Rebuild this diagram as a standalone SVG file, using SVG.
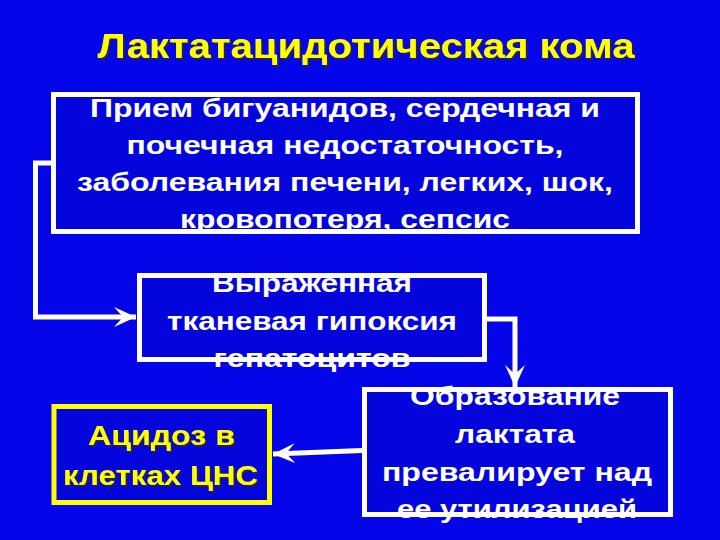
<svg xmlns="http://www.w3.org/2000/svg" width="720" height="540" viewBox="0 0 720 540">
<defs>
<style>
.box{fill:#0404DC;stroke:#FFFFFF;stroke-width:5}
.ybox{fill:#0404DC;stroke:#FFFF00;stroke-width:5}
.t{font-family:"Liberation Sans",Arial,sans-serif;font-weight:bold;font-size:26px;fill:#FFFFFF;text-anchor:middle}
.y{fill:#FFFF00}
.conn{fill:none;stroke:#FFFFFF;stroke-width:5}
</style>
<filter id="sh" x="-10%" y="-10%" width="120%" height="130%">
<feDropShadow dx="2" dy="2" stdDeviation="0.6" flood-color="#222244" flood-opacity="0.9"/>
</filter>
<marker id="arr" viewBox="0 0 24 24" refX="22" refY="12" markerWidth="24" markerHeight="24" markerUnits="userSpaceOnUse" orient="auto">
<path d="M0,2 L22,12 L0,22 L9,12 Z" fill="#FFFFFF"/>
</marker>
</defs>
<rect width="720" height="540" fill="#0505EA"/>
<text id="title" x="366" y="58" class="t y" style="font-size:35px" textLength="537" lengthAdjust="spacingAndGlyphs" filter="url(#sh)">Лактатацидотическая кома</text>
<g id="connectors">
<polyline class="conn" points="53,163 35.5,163 35.5,317 136,317" marker-end="url(#arr)"/>
<polyline class="conn" points="487,319 515,319 515,387" marker-end="url(#arr)"/>
<line class="conn" x1="362" y1="450.5" x2="273" y2="454" marker-end="url(#arr)"/>
</g>
<g id="n1">
<rect class="box" x="53.5" y="94.5" width="584" height="137"/>
<text class="t" x="345" y="117" textLength="510" lengthAdjust="spacingAndGlyphs">Прием бигуанидов, сердечная и</text>
<text class="t" x="345" y="154" textLength="437" lengthAdjust="spacingAndGlyphs">почечная недостаточность,</text>
<text class="t" x="345" y="191" textLength="536" lengthAdjust="spacingAndGlyphs">заболевания печени, легких, шок,</text>
<text class="t" x="345" y="228" textLength="330" lengthAdjust="spacingAndGlyphs">кровопотеря, сепсис</text>
</g>
<g id="n2">
<rect class="box" x="139.5" y="275.5" width="345" height="84"/>
<text class="t" x="312" y="292" textLength="200" lengthAdjust="spacingAndGlyphs">Выраженная</text>
<text class="t" x="312" y="330" textLength="290" lengthAdjust="spacingAndGlyphs">тканевая гипоксия</text>
<text class="t" x="312" y="367" textLength="197" lengthAdjust="spacingAndGlyphs">гепатоцитов</text>
</g>
<g id="n3">
<rect class="box" x="364.5" y="389.5" width="306" height="125"/>
<text class="t" x="515" y="405" textLength="210" lengthAdjust="spacingAndGlyphs">Образование</text>
<text class="t" x="515" y="443" textLength="120" lengthAdjust="spacingAndGlyphs">лактата</text>
<text class="t" x="517" y="481" textLength="270" lengthAdjust="spacingAndGlyphs">превалирует над</text>
<text class="t" x="517" y="518" textLength="240" lengthAdjust="spacingAndGlyphs">ее утилизацией</text>
</g>
<g id="n4">
<rect class="ybox" x="54" y="406.5" width="215.5" height="96"/>
<text class="t y" x="161.5" y="445" style="font-size:27px" textLength="147" lengthAdjust="spacingAndGlyphs" filter="url(#sh)">Ацидоз в</text>
<text class="t y" x="160.5" y="485" style="font-size:27px" textLength="195" lengthAdjust="spacingAndGlyphs" filter="url(#sh)">клетках ЦНС</text>
</g>
</svg>
